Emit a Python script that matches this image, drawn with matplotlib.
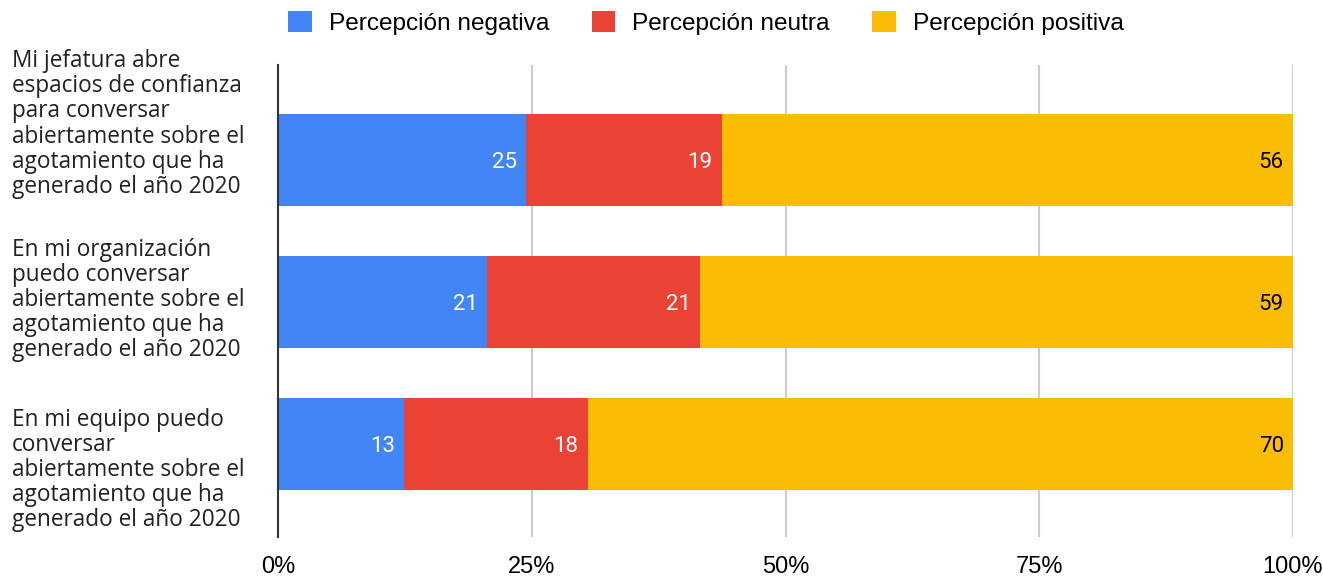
import matplotlib.pyplot as plt
import numpy as np

categories = [
    "Mi jefatura abre\nespacios de confianza\npara conversar\nabiertamente sobre el\nagotamiento que ha\ngenerado el año 2020",
    "En mi organización\npuedo conversar\nabiertamente sobre el\nagotamiento que ha\ngenerado el año 2020",
    "En mi equipo puedo\nconversar\nabiertamente sobre el\nagotamiento que ha\ngenerado el año 2020",
]
series_names = ["Percepción negativa", "Percepción neutra", "Percepción positiva"]
negativa = [24.4, 20.6, 12.4]
neutra = [19.3, 21.0, 18.1]
positiva = [56.3, 58.4, 69.5]
labels_negativa = ["25", "21", "13"]
labels_neutra = ["19", "21", "18"]
labels_positiva = ["56", "59", "70"]
xticks = [0, 25, 50, 75, 100]
xtick_labels = ["0%", "25%", "50%", "75%", "100%"]

colors = ["#4285F4", "#EA4335", "#FBBC04"]
text_colors = ["white", "white", "black"]

W, H = 1323, 576
fig = plt.figure(figsize=(W / 100, H / 100), dpi=100)
ax = fig.add_axes([278 / W, 39 / H, 1015 / W, 472 / H])

y = np.arange(len(categories))
left = np.zeros(len(categories))
handles = []
for vals, labs, name, col, tcol in zip(
    [negativa, neutra, positiva],
    [labels_negativa, labels_neutra, labels_positiva],
    series_names, colors, text_colors,
):
    bars = ax.barh(y, vals, left=left, height=0.648, color=col, label=name, zorder=3)
    handles.append(bars)
    for yi, l, v, t in zip(y, left, vals, labs):
        ax.text(l + v - 0.9, yi, t, ha="right", va="center_baseline", color=tcol,
                fontsize=16, family=["Roboto", "DejaVu Sans"], zorder=4)
    left = left + np.array(vals)

ax.set_xlim(0, 100)
ax.set_ylim(2.655, -0.669)
ax.set_yticks([])
ax.set_xticks(xticks)
ax.set_xticklabels(xtick_labels, family=["Liberation Sans Narrow", "Liberation Sans"], fontsize=17)
ax.tick_params(axis="x", length=0, pad=14)
ax.grid(axis="x", color="#cccccc", linewidth=1.5, zorder=0)
for s in ["top", "right", "bottom"]:
    ax.spines[s].set_visible(False)
ax.spines["left"].set_color("#333333")
ax.spines["left"].set_linewidth(1.5)
ax.spines["left"].set_zorder(5)

# category labels (Google Charts style placement)
label_centers = [124, 300, 470]
for txt, cy in zip(categories, label_centers):
    fig.text(12 / W, 1 - cy / H, txt, ha="left", va="center", fontsize=16.3,
             family=["Open Sans", "DejaVu Sans"], linespacing=1.06, color="#222222")

fig.legend(handles=handles, labels=series_names, loc="center", ncol=3,
           bbox_to_anchor=(706 / W, 1 - 23 / H), frameon=False,
           prop={"family": ["Liberation Sans", "DejaVu Sans"], "size": 17.6},
           handlelength=0.95, handleheight=0.95, handletextpad=0.7, columnspacing=1.75)

fig.savefig("out.png", dpi=100)
